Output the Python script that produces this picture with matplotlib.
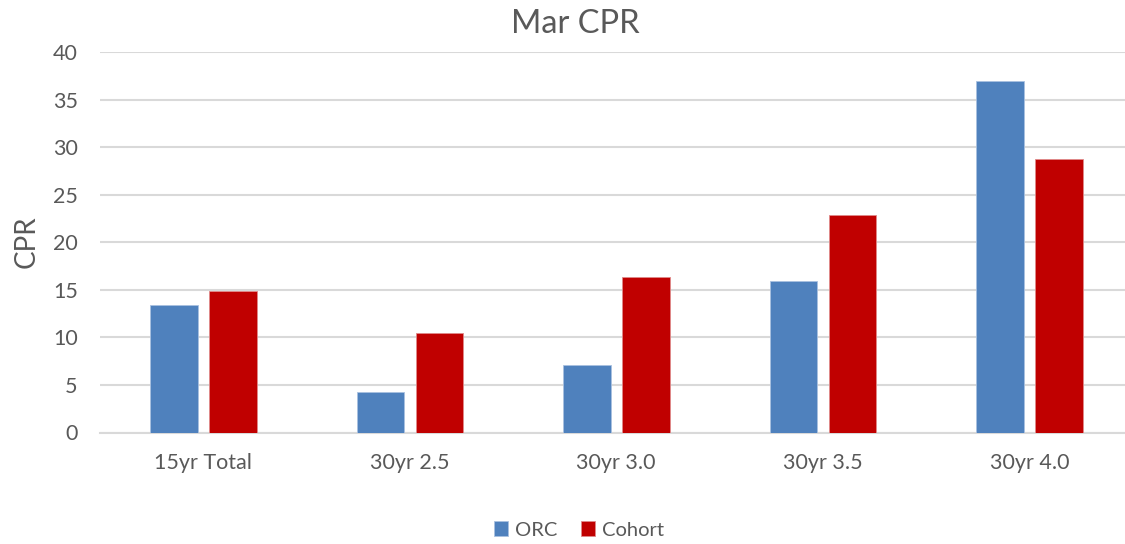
import matplotlib
matplotlib.use("Agg")
import matplotlib.pyplot as plt
import numpy as np

categories = ["15yr Total", "30yr 2.5", "30yr 3.0", "30yr 3.5", "30yr 4.0"]
orc = [13.4, 4.25, 7.1, 15.95, 36.95]
cohort = [14.9, 10.5, 16.3, 22.85, 28.8]
series_names = ["ORC", "Cohort"]
yticks = [0, 5, 10, 15, 20, 25, 30, 35, 40]

plt.rcParams['font.family'] = ['Lato', 'DejaVu Sans']
txt = '#595959'
W, H = 1125, 544
fig = plt.figure(figsize=(W / 100, H / 100), dpi=100)
spacing = 206.5
left_px = 100
right_px = 1125
ax = fig.add_axes([left_px / W, (H - 432.5) / H, (right_px - left_px) / W, (432.5 - 52) / H])

x = np.arange(len(categories))
bw = 47.5 / spacing
off = 29.5 / spacing
ax.bar(x - off, orc, bw, color='#4F81BD', edgecolor='#A9C1E0', linewidth=0.6, label=series_names[0], zorder=3)
ax.bar(x + off, cohort, bw, color='#C00000', edgecolor='#E08A8A', linewidth=0.6, label=series_names[1], zorder=3)

x0 = -0.5
ax.set_xlim(x0, x0 + (right_px - left_px) / spacing)
ax.set_ylim(0, 40)
ax.set_yticks(yticks)
ax.set_xticks(x)
ax.set_xticklabels(categories)
ax.yaxis.grid(True, color='#D9D9D9', linewidth=1.5, zorder=0)
for s in ['top', 'right', 'left']:
    ax.spines[s].set_visible(False)
ax.spines['bottom'].set_color('#D9D9D9')
ax.spines['bottom'].set_linewidth(1.5)
ax.tick_params(axis='y', length=0, colors=txt, labelsize=15.5, pad=16)
ax.tick_params(axis='x', length=0, colors=txt, labelsize=15.5, pad=15)

fig.text(575 / W, 1 - 24 / H, "Mar CPR", ha='center', va='center', fontsize=23.5, color=txt)
fig.text(27 / W, 1 - 242 / H, "CPR", ha='center', va='center', rotation=90, fontsize=20, color=txt)

leg = fig.legend(loc='center', bbox_to_anchor=(579 / W, 1 - 530 / H), ncol=2, frameon=False,
                 fontsize=14.5, handlelength=0.7, handleheight=0.7, handletextpad=0.35,
                 columnspacing=1.2, labelcolor=txt)

fig.savefig("out.png", dpi=100, facecolor='white')
